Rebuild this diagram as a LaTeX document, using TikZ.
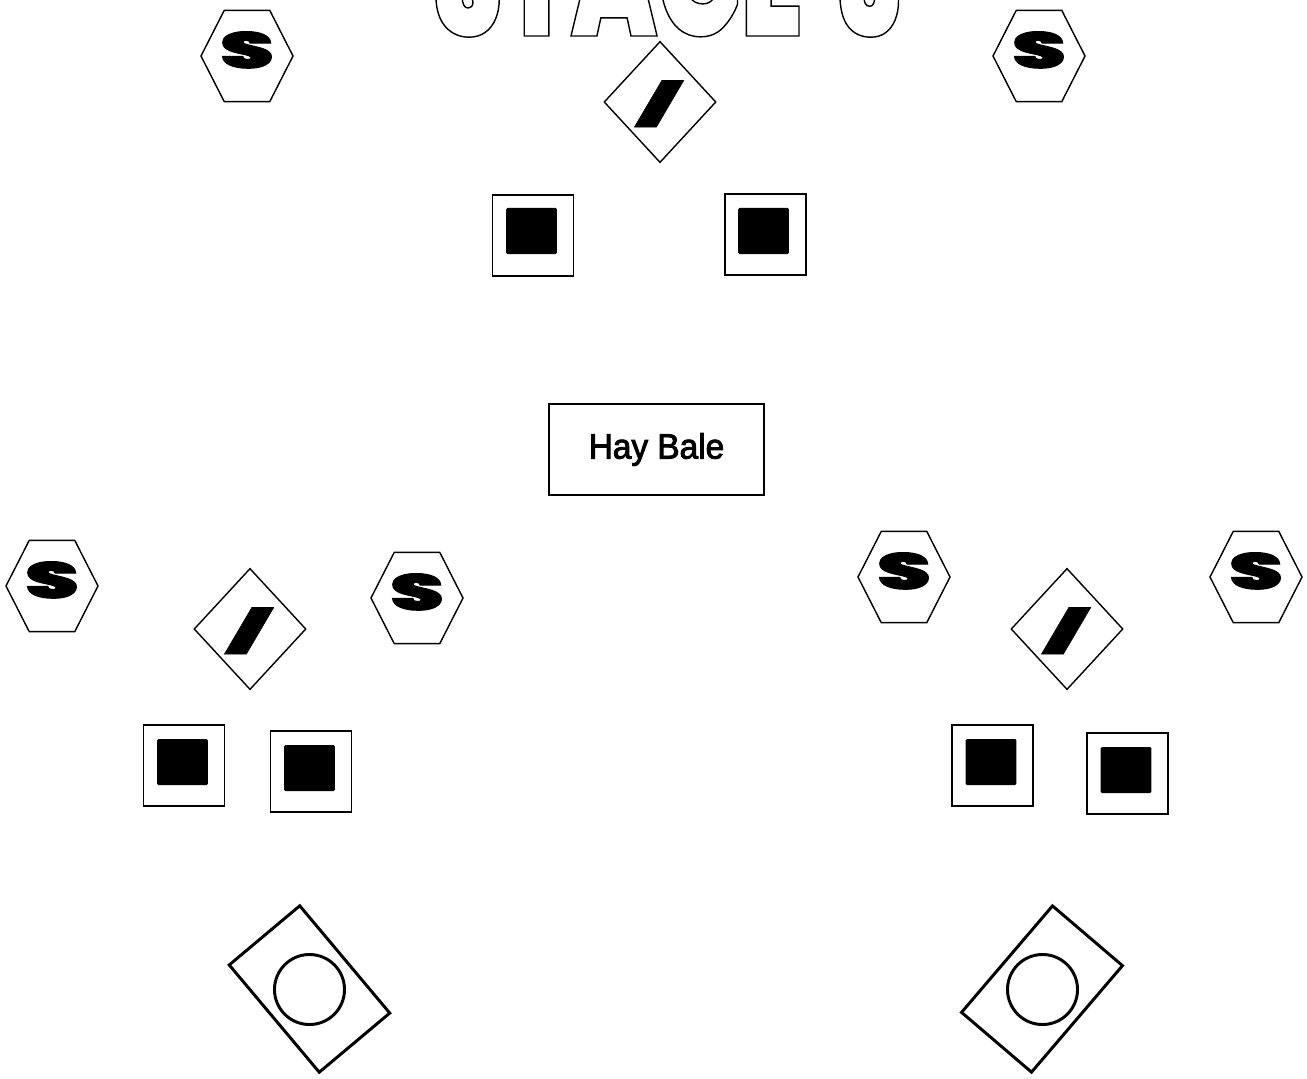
\documentclass[tikz,border=0pt]{standalone}
\usepackage{fontspec}
\usetikzlibrary{shapes.geometric, shapes.symbols}
\newfontfamily\stagefont[FakeStretch=0.66]{Poppins Black}
\newfontfamily\letterfont[FakeStretch=1.7,FakeBold=2]{Poppins Black}
\newfontfamily\slashfont[FakeStretch=2.55,FakeBold=1]{Poppins Black}
\newfontfamily\balefont[FakeBold=2.5,FakeStretch=0.95]{Liberation Sans}
\newcommand{\hexmark}{\raisebox{-8.5pt}[0pt][0pt]{\makebox[0pt]{\fontsize{36pt}{36pt}\letterfont S}}}
\newcommand{\slashmark}{\kern-1.8pt\raisebox{-12.2pt}[0pt][0pt]{\makebox[0pt]{\fontsize{29pt}{30pt}\slashfont /}}}
\begin{document}
\begin{tikzpicture}[x=0.025cm,y=-0.025cm,hexbox/.style={draw=black,line width=1pt,signal,signal to=east and west,signal pointer angle=126,minimum width=2.3cm,minimum height=2.28cm,inner sep=0pt},diamondbox/.style={draw=black,line width=1pt,diamond,minimum width=2.8cm,minimum height=3.03cm,inner sep=0pt},squarebox/.style={draw=black,line width=1pt,minimum width=2.03cm,minimum height=2.03cm,inner sep=0pt},fillbox/.style={fill=black,rounded corners=1pt,minimum width=1.27cm,minimum height=1.15cm,inner sep=0pt},haybox/.style={draw=black,line width=1pt,minimum width=5.38cm,minimum height=2.28cm,inner sep=0pt,font=\fontsize{25pt}{26pt}\balefont},targetbox/.style={draw=black,line width=2.1pt,minimum width=3.5cm,minimum height=2.3cm,inner sep=0pt},ringbox/.style={draw=black,line width=2.1pt,circle,minimum size=1.75cm,inner sep=0pt}]
\useasboundingbox (0,0) rectangle (1307,1078);
\node[anchor=base, font=\fontsize{120pt}{120pt}\stagefont] (stage) at (668.5,36) {\special{pdf:code q 1 Tr 1 w 0 G}STAGE\hspace{10pt} 3\special{pdf:code Q}};
% top group
\node[hexbox] (topleft) at (247,56) {\hexmark};
\node[hexbox] (topright) at (1039,56) {\hexmark};
\node[diamondbox] (topdiamond) at (660,102) {\slashmark};
\node[squarebox] (topsquarea) at (533,235.5) {};
\node[fillbox] (topfilla) at (531.5,231) {};
\node[squarebox] (topsquareb) at (765.5,234.5) {};
\node[fillbox] (topfillb) at (763.5,231) {};
\node[haybox] (hay) at (656.5,449.5) {Hay Bale};
% left group
\node[hexbox] (lefta) at (52,586) {\hexmark};
\node[hexbox] (leftb) at (417,598) {\hexmark};
\node[diamondbox] (leftdiamond) at (250,629) {\slashmark};
\node[squarebox] (leftsquarea) at (184,765.5) {};
\node[fillbox] (leftfilla) at (182.5,762) {};
\node[squarebox] (leftsquareb) at (311,771.5) {};
\node[fillbox] (leftfillb) at (309.5,768) {};
\node[targetbox, rotate=-50] (lefttarget) at (309.5,989) {};
\node[ringbox] (leftring) at (309.5,989.5) {};
% right group
\node[hexbox] (righta) at (904,577) {\hexmark};
\node[hexbox] (rightb) at (1256,577) {\hexmark};
\node[diamondbox] (rightdiamond) at (1067,629) {\slashmark};
\node[squarebox] (rightsquarea) at (992.5,765.5) {};
\node[fillbox] (rightfilla) at (991,762) {};
\node[squarebox] (rightsquareb) at (1127.5,773.5) {};
\node[fillbox] (rightfillb) at (1126,770) {};
\node[targetbox, rotate=49.5] (righttarget) at (1042,989) {};
\node[ringbox] (rightring) at (1042.5,989.5) {};
\end{tikzpicture}
\end{document}
